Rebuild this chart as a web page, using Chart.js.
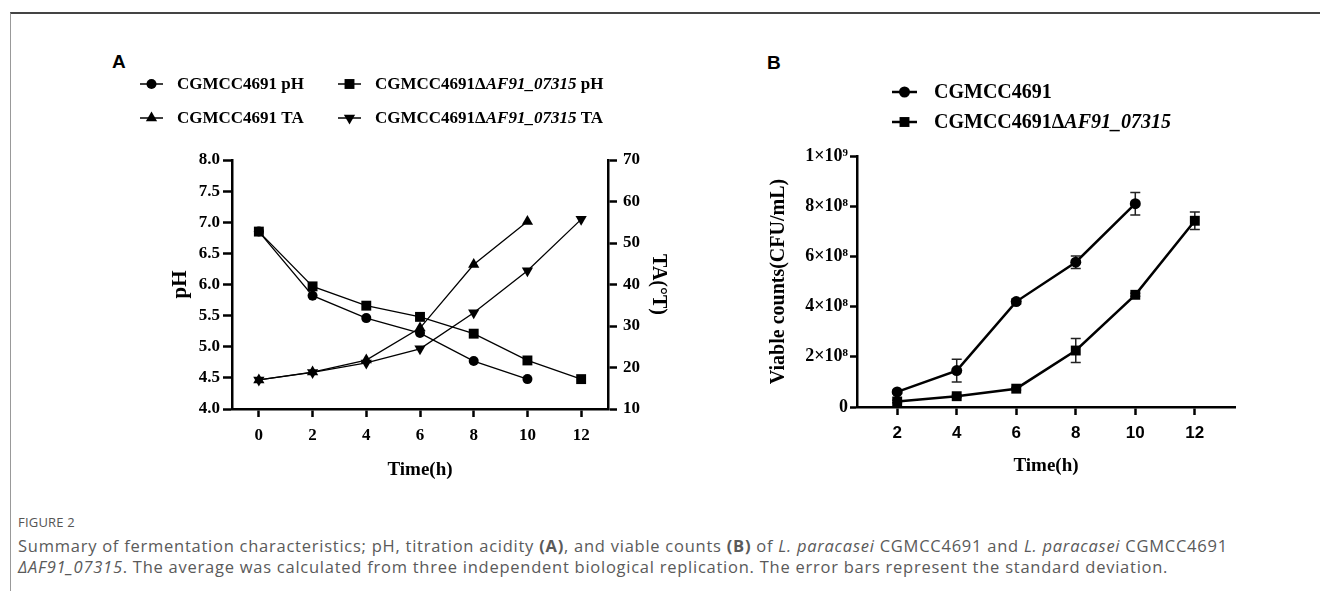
<!DOCTYPE html>
<html>
<head>
<meta charset="utf-8">
<script src="https://cdn.jsdelivr.net/npm/chart.js@4.4.0/dist/chart.umd.min.js"></script>
<style>
html,body{margin:0;padding:0;background:#fff;}
body{width:1320px;height:591px;position:relative;overflow:hidden;}
.frame{position:absolute;left:10px;top:12px;right:-5px;bottom:-5px;border-top:2px solid #444;border-left:1px solid #999;}
.box{position:absolute;top:0;height:500px;}
#boxA{left:0;width:720px;}
#boxB{left:720px;width:600px;}
.panel{position:absolute;font:bold 19px "Liberation Sans",Arial,sans-serif;color:#000;}
.fig{position:absolute;left:18px;top:513px;font:13px "Open Sans",sans-serif;color:#555;letter-spacing:0.2px;}
.cap{position:absolute;left:18px;top:535px;font:16.5px/21px "Open Sans",sans-serif;color:#5a5a5a;letter-spacing:0.75px;white-space:nowrap;}
</style>
</head>
<body>
<div class="frame"></div>
<div class="panel" style="left:112px;top:51px;">A</div>
<div class="panel" style="left:767px;top:52px;">B</div>
<div class="box" id="boxA"><canvas id="chartA"></canvas></div>
<div class="box" id="boxB"><canvas id="chartB"></canvas></div>
<div class="fig">FIGURE 2</div>
<div class="cap">Summary of fermentation characteristics; pH, titration acidity <b>(A)</b>, and viable counts <b>(B)</b> of <i>L. paracasei</i> CGMCC4691 and <i>L. paracasei</i> CGMCC4691<br><i>ΔAF91_07315</i>. The average was calculated from three independent biological replication. The error bars represent the standard deviation.</div>
<script>
// panel A: pH and titratable acidity
const timeA = [0, 2, 4, 6, 8, 10, 12];
const phWT  = [6.85, 5.82, 5.46, 5.22, 4.77, 4.48, null];
const phMut = [6.85, 5.97, 5.66, 5.48, 5.21, 4.78, 4.48];
const taWT  = [17.0, 18.9, 21.8, 29.5, 44.8, 55.2, null];
const taMut = [17.0, 18.8, 21.1, 24.5, 33.2, 43.3, 55.7];
const phTicks = [4.0, 4.5, 5.0, 5.5, 6.0, 6.5, 7.0, 7.5, 8.0];
const taTicks = [10, 20, 30, 40, 50, 60, 70];

// panel B: viable counts (mean and SD)
const timeB = [2, 4, 6, 8, 10, 12];
const cfuWT    = [6.0e7, 1.45e8, 4.2e8, 5.77e8, 8.1e8, null];
const cfuWTsd  = [0.6e7, 4.5e7, 1.0e7, 2.5e7, 4.5e7, null];
const cfuMut   = [2.2e7, 4.3e7, 7.3e7, 2.25e8, 4.47e8, 7.42e8];
const cfuMutSd = [0.5e7, 0.5e7, 0.5e7, 4.8e7, 0.6e7, 3.5e7];
const cfuTicks = [0, 2e8, 4e8, 6e8, 8e8, 1e9];

// legend labels: [text, italic]
const lblWTpH  = [['CGMCC4691 pH', false]];
const lblMutpH = [['CGMCC4691Δ', false], ['AF91_07315', true], [' pH', false]];
const lblWTTA  = [['CGMCC4691 TA', false]];
const lblMutTA = [['CGMCC4691Δ', false], ['AF91_07315', true], [' TA', false]];
const lblWT    = [['CGMCC4691', false]];
const lblMut   = [['CGMCC4691Δ', false], ['AF91_07315', true]];

Chart.defaults.font.family = '"Liberation Serif", "Times New Roman", serif';
Chart.defaults.font.weight = 'bold';
Chart.defaults.color = '#000';
Chart.defaults.animation = false;

const pts = (xs, ys) => xs.map((x, i) => ({x, y: ys[i]})).filter(p => p.y != null);
const sup = {8: '⁸', 9: '⁹'};

// legend drawn on canvas so the strain name can be partly italic
const keyLegend = {
  id: 'keyLegend',
  afterDraw(chart, args, o) {
    const ctx = chart.ctx;
    ctx.save();
    o.items.forEach(it => {
      const ds = chart.data.datasets[it.ds];
      ctx.strokeStyle = '#000'; ctx.fillStyle = '#000';
      ctx.lineWidth = o.lineWidth;
      ctx.beginPath(); ctx.moveTo(it.x, it.y); ctx.lineTo(it.x + o.lineLen, it.y); ctx.stroke();
      Chart.helpers.drawPoint(ctx, {pointStyle: ds.pointStyle, rotation: ds.pointRotation || 0,
        radius: ds.pointRadius, borderWidth: 0}, it.x + o.lineLen / 2, it.y);
      let tx = it.x + o.textGap;
      ctx.textBaseline = 'middle';
      ds.legendParts.forEach(([t, ital]) => {
        ctx.font = (ital ? 'italic ' : '') + 'bold ' + o.size + 'px "Liberation Serif", serif';
        ctx.fillText(t, tx, it.y + 1);
        tx += ctx.measureText(t).width;
      });
    });
    ctx.restore();
  }
};

// SD whiskers, drawn under the markers
const errorBars = {
  id: 'errorBars',
  beforeDatasetsDraw(chart) {
    const {ctx, scales: {x, y}} = chart;
    ctx.save();
    ctx.strokeStyle = '#222'; ctx.lineWidth = 1.5;
    chart.data.datasets.forEach(ds => {
      if (!ds.sd) return;
      ds.sd.forEach((s, i) => {
        if (s == null || ds.means[i] == null) return;
        const px = x.getPixelForValue(ds.times[i]);
        const hi = y.getPixelForValue(ds.means[i] + s), lo = y.getPixelForValue(ds.means[i] - s);
        ctx.beginPath();
        ctx.moveTo(px, hi); ctx.lineTo(px, lo);
        ctx.moveTo(px - 5, hi); ctx.lineTo(px + 5, hi);
        ctx.moveTo(px - 5, lo); ctx.lineTo(px + 5, lo);
        ctx.stroke();
      });
    });
    ctx.restore();
  }
};

const axisLine = {color: '#000', width: 2.5};
const tickGrid = len => ({drawOnChartArea: false, tickLength: len, tickWidth: 2.5, tickColor: '#000'});

new Chart(document.getElementById('chartA'), {
  type: 'line',
  data: {datasets: [
    {label: 'CGMCC4691 pH', legendParts: lblWTpH, data: pts(timeA, phWT), yAxisID: 'y',
     pointStyle: 'circle', pointRadius: 5},
    {label: 'CGMCC4691ΔAF91_07315 pH', legendParts: lblMutpH, data: pts(timeA, phMut), yAxisID: 'y',
     pointStyle: 'rect', pointRadius: 7},
    {label: 'CGMCC4691 TA', legendParts: lblWTTA, data: pts(timeA, taWT), yAxisID: 'y2',
     pointStyle: 'triangle', pointRadius: 6.5},
    {label: 'CGMCC4691ΔAF91_07315 TA', legendParts: lblMutTA, data: pts(timeA, taMut), yAxisID: 'y2',
     pointStyle: 'triangle', pointRotation: 180, pointRadius: 6.5}
  ].map(d => Object.assign({borderColor: '#000', backgroundColor: '#000', borderWidth: 1.3,
     pointBorderWidth: 0, tension: 0}, d))},
  options: {
    responsive: true, maintainAspectRatio: false,
    layout: {padding: {left: 160, right: 40, top: 160, bottom: 11}},
    plugins: {
      legend: {display: false}, tooltip: {enabled: false},
      keyLegend: {size: 17, lineLen: 23, lineWidth: 1.5, textGap: 37, items: [
        {ds: 0, x: 140, y: 84}, {ds: 1, x: 338, y: 84},
        {ds: 2, x: 140, y: 118}, {ds: 3, x: 338, y: 118}
      ]}
    },
    scales: {
      x: {type: 'linear', min: -1, max: 13,
          afterBuildTicks: s => { s.ticks = timeA.map(v => ({value: v})); },
          afterFit: s => { s.height = 80; },
          grid: tickGrid(8), border: axisLine,
          ticks: {font: {size: 17}, padding: 8, maxRotation: 0},
          title: {display: true, text: 'Time(h)', font: {size: 19}, padding: {top: 0, bottom: 8}}},
      y: {position: 'left', min: 4, max: 8,
          afterBuildTicks: s => { s.ticks = phTicks.map(v => ({value: v})); },
          afterFit: s => { s.width = 72; },
          grid: tickGrid(9), border: axisLine,
          ticks: {font: {size: 17}, padding: 3, callback: v => v.toFixed(1)},
          title: {display: true, text: 'pH', font: {size: 21}, padding: {top: 8, bottom: 0}}},
      y2: {position: 'right', min: 10, max: 70,
          afterBuildTicks: s => { s.ticks = taTicks.map(v => ({value: v})); },
          afterFit: s => { s.width = 72; },
          grid: tickGrid(9), border: axisLine,
          ticks: {font: {size: 17}, padding: 6},
          title: {display: true, text: 'TA(°T)', font: {size: 20}, padding: {top: 10, bottom: 0}}}
    }
  },
  plugins: [keyLegend]
});

new Chart(document.getElementById('chartB'), {
  type: 'line',
  data: {datasets: [
    {label: 'CGMCC4691', legendParts: lblWT, data: pts(timeB, cfuWT),
     times: timeB, means: cfuWT, sd: cfuWTsd, pointStyle: 'circle', pointRadius: 5.5},
    {label: 'CGMCC4691ΔAF91_07315', legendParts: lblMut, data: pts(timeB, cfuMut),
     times: timeB, means: cfuMut, sd: cfuMutSd, pointStyle: 'rect', pointRadius: 7}
  ].map(d => Object.assign({borderColor: '#000', backgroundColor: '#000', borderWidth: 2.5,
     pointBorderWidth: 0, tension: 0}, d))},
  options: {
    responsive: true, maintainAspectRatio: false,
    layout: {padding: {left: 47, right: 85, top: 156, bottom: 13}},
    plugins: {
      legend: {display: false}, tooltip: {enabled: false},
      keyLegend: {size: 20, lineLen: 25, lineWidth: 2.5, textGap: 42, items: [
        {ds: 0, x: 172, y: 92}, {ds: 1, x: 172, y: 122}
      ]}
    },
    scales: {
      x: {type: 'linear', min: 0.65, max: 13.35,
          afterBuildTicks: s => { s.ticks = timeB.map(v => ({value: v})); },
          afterFit: s => { s.height = 80; },
          grid: tickGrid(8), border: axisLine,
          ticks: {font: {size: 17, family: '"Liberation Sans", Arial, sans-serif'}, padding: 8, maxRotation: 0},
          title: {display: true, text: 'Time(h)', font: {size: 19}, padding: {top: 0, bottom: 10}}},
      y: {min: 0, max: 1e9,
          afterBuildTicks: s => { s.ticks = cfuTicks.map(v => ({value: v})); },
          afterFit: s => { s.width = 90; },
          grid: tickGrid(7), border: axisLine,
          ticks: {font: {size: 18}, padding: 2, callback: v => {
            if (v === 0) return '0';
            const e = Math.floor(Math.log10(v) + 1e-9);
            return Math.round(v / Math.pow(10, e)) + '×10' + sup[e];
          }},
          title: {display: true, text: 'Viable counts(CFU/mL)', font: {size: 20}, padding: {top: 0, bottom: 0}}}
    }
  },
  plugins: [keyLegend, errorBars]
});
</script>
</body>
</html>
